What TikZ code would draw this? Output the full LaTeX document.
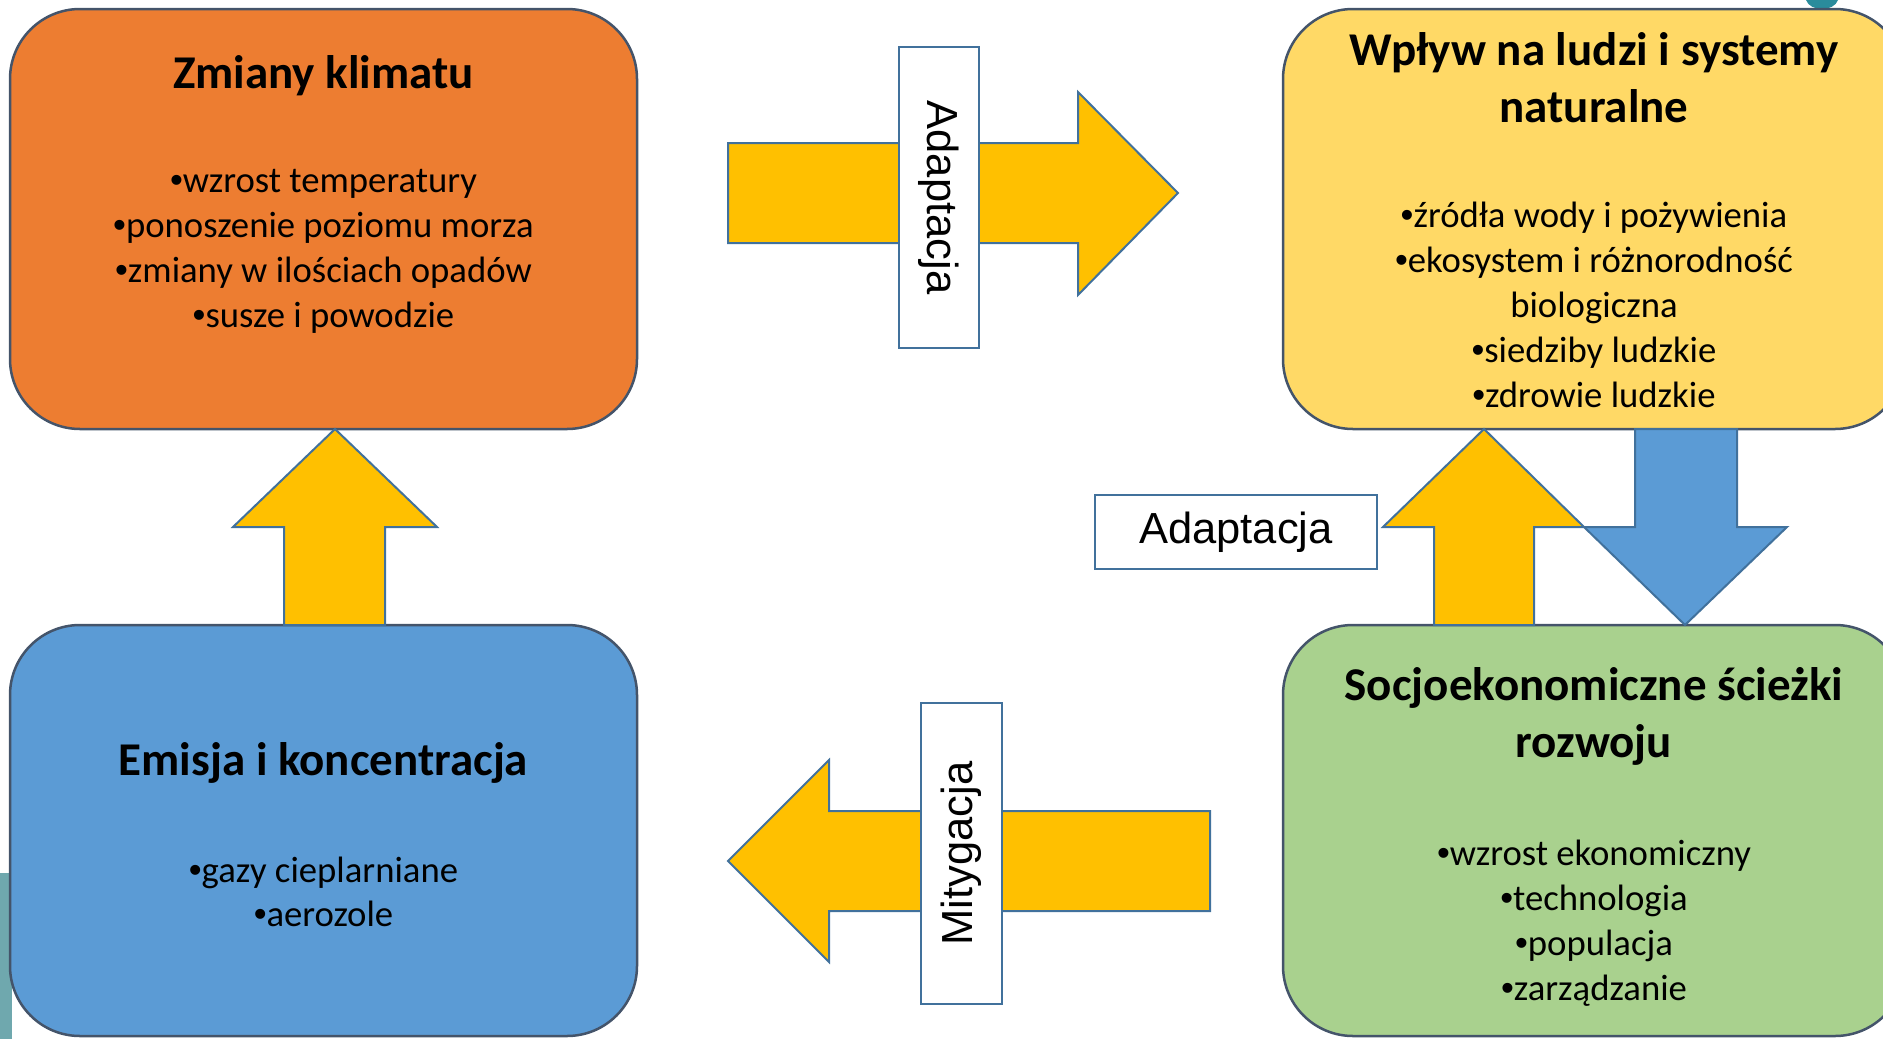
\documentclass[tikz,border=0pt]{standalone}
\usepackage{fontspec}
\setmainfont{Carlito}
\newfontfamily\tagfont{Liberation Sans}
\usetikzlibrary{positioning}

\definecolor{zmianycol}{HTML}{ED7D31}
\definecolor{wplywcol}{HTML}{FFD966}
\definecolor{emisjacol}{HTML}{5B9BD5}
\definecolor{socjocol}{HTML}{A9D18E}
\definecolor{boxline}{HTML}{44546A}
\definecolor{arrowfill}{HTML}{FFC000}
\definecolor{arrowline}{HTML}{41719C}
\definecolor{tealbg}{HTML}{6FA8AE}
\definecolor{tealdark}{HTML}{2A8C9C}

% bullet as PowerPoint sets it
\newcommand{\blt}{{\tagfont •}}

\tikzset{
  box/.style={draw=boxline, line width=2.5pt, rounded corners=70pt, inner sep=0pt, outer sep=0pt},
  title/.style={font=\fontsize{47}{57}\selectfont\bfseries, anchor=base, inner sep=0pt},
  item/.style={font=\fontsize{36.7}{45}\selectfont, anchor=base, inner sep=0pt},
  blockarrow/.style={draw=arrowline, line width=2pt, fill=arrowfill, line join=miter},
  tag/.style={draw=arrowline, line width=2pt, fill=white, inner sep=0pt,
    font=\tagfont\fontsize{43.5}{52}\selectfont}
}

\begin{document}
\begin{tikzpicture}[x=1pt, y=-1pt]
\useasboundingbox (0,0) rectangle (1883,1039);

% background bits of the slide
\fill[tealbg] (0,873) rectangle (12,1039);
\fill[tealdark] (1806,0) .. controls (1810,12) and (1834,12) .. (1838,0) -- cycle;

% the four boxes
\node[box, fill=zmianycol, minimum width=627pt, minimum height=420pt] (zmiany) at (323.5,219) {};
\node[box, fill=wplywcol, minimum width=622pt, minimum height=420pt] (wplyw) at (1594,219) {};
\node[box, fill=emisjacol, minimum width=627pt, minimum height=411pt] (emisja) at (323.5,830.5) {};
\node[box, fill=socjocol, minimum width=622pt, minimum height=411pt] (socjo) at (1594,830.5) {};

% texts
\node[title] (zmianyT) at (323.5,88) {Zmiany klimatu};
\foreach \t [count=\i from 0] in {\blt wzrost temperatury, \blt ponoszenie poziomu morza, \blt zmiany w ilościach opadów, \blt susze i powodzie}
  \node[item] (zmiany\i) at (323.5,{192+45*\i}) {\t};

\node[title] (wplywT1) at (1594,65) {Wpływ na ludzi i systemy};
\node[title] (wplywT2) at (1594,122) {naturalne};
\foreach \t [count=\i from 0] in {\blt źródła wody i pożywienia, \blt ekosystem i różnorodność, biologiczna, \blt siedziby ludzkie, \blt zdrowie ludzkie}
  \node[item] (wplyw\i) at (1594,{227+45*\i}) {\t};

\node[title] (emisjaT) at (323.5,775) {Emisja i koncentracja};
\foreach \t [count=\i from 0] in {\blt gazy cieplarniane, \blt aerozole}
  \node[item] (emisja\i) at (323.5,{882+44*\i}) {\t};

\node[title] (socjoT1) at (1594,700) {Socjoekonomiczne ścieżki};
\node[title] (socjoT2) at (1594,757) {rozwoju};
\foreach \t [count=\i from 0] in {\blt wzrost ekonomiczny, \blt technologia, \blt populacja, \blt zarządzanie}
  \node[item] (socjo\i) at (1594,{865+45*\i}) {\t};

% block arrows
\draw[blockarrow] (335,0 |- zmiany.south) -- ++(102,98) -- ++(-52,0) -- (385,0 |- emisja.north)
  -- (284,0 |- emisja.north) -- ++(0,-98) -- ++(-51,0) -- cycle;
\draw[blockarrow] (1484,0 |- wplyw.south) -- ++(100,98) -- ++(-50,0) -- (1534,0 |- socjo.north)
  -- (1434,0 |- socjo.north) -- ++(0,-98) -- ++(-51,0) -- cycle;
\draw[blockarrow, fill=emisjacol] (1635,0 |- wplyw.south) -- (1737,0 |- wplyw.south) -- ++(0,98) -- ++(50,0)
  -- (1685,0 |- socjo.north) -- (1584,527) -- (1635,527) -- cycle;
\draw[blockarrow] (728,143) -- (1078,143) -- (1078,92) -- (1178,193) -- (1078,295) -- (1078,243) -- (728,243) -- cycle;
\draw[blockarrow] (1210,811) -- (829,811) -- (829,760) -- (728,861) -- (829,962) -- (829,911) -- (1210,911) -- cycle;

% labels on the arrows
\node[tag, rotate=-90, minimum width=301pt, minimum height=80pt] (adaptTop) at (939,197.5) {Adaptacja};
\node[tag, rotate=90, minimum width=301pt, minimum height=81pt] (mityg) at (961.5,853.5) {Mitygacja};
\node[tag, minimum width=282pt, minimum height=74pt] (adaptMid) at (1236,532) {Adaptacja};
\end{tikzpicture}
\end{document}
